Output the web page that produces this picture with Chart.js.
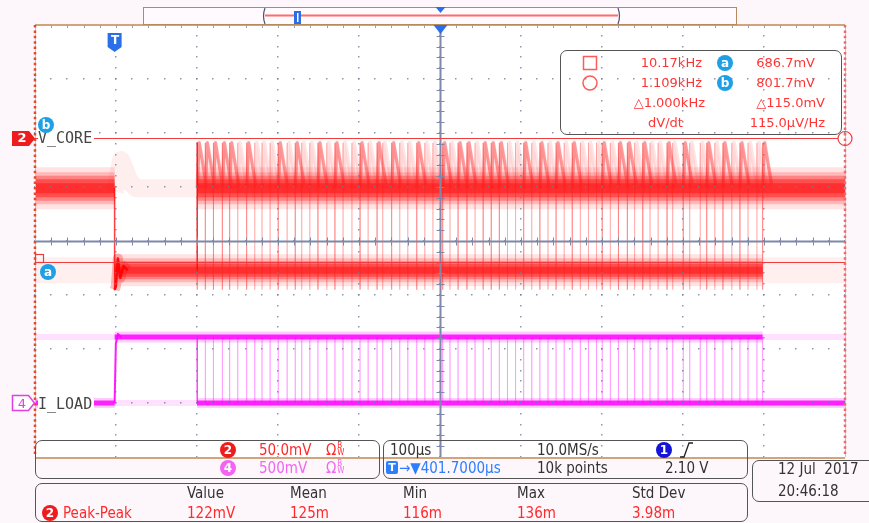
<!DOCTYPE html>
<html>
<head>
<meta charset="utf-8">
<script src="https://cdn.jsdelivr.net/npm/chart.js@4.4.1/dist/chart.umd.min.js"></script>
<style>
  html, body { margin: 0; padding: 0; background: #fdf6fb; }
  #scope { position: relative; width: 869px; height: 523px; overflow: hidden; font-family: "Liberation Sans", Arial, sans-serif; }
  #scope canvas { position: absolute; left: 0; top: 0; }
  .t { position: absolute; white-space: nowrap; line-height: 16px; height: 16px; }
  .box { position: absolute; border: 1.5px solid #555; border-radius: 7px; box-sizing: border-box; }
  .meas { font-family: "DejaVu Sans", sans-serif; font-size: 13px; color: #ff3434; }
  .info { font-family: "Liberation Sans Narrow", "DejaVu Sans Condensed", "Liberation Sans", sans-serif; font-size: 15px; color: #333; }
  .red { color: #ff2a2a; }
  .mag { color: #f264f2; }
  .blue { color: #2b7fff; }
  .badge { position: absolute; width: 16px; height: 16px; border-radius: 50%; color: #fff; text-align: center;
           font: bold 12px/16px "DejaVu Sans", sans-serif; }
  .tag { position: absolute; font: 15px/16px "DejaVu Sans Mono", monospace; color: #444; background: #fff; padding-right: 2px; }
  .bw { display: inline-block; font-size: 8px; line-height: 7px; vertical-align: top; margin-left: 1px; }
</style>
</head>
<body>
<div id="scope">
  <canvas id="scope-canvas" width="869" height="523"></canvas>

  <!-- trace labels and markers -->
  <div class="tag" style="left:38px;top:130px">V_CORE</div>
  <div class="tag" style="left:38px;top:396px">I_LOAD</div>
  <div class="t" style="left:14px;top:130px;width:16px;text-align:center;font:bold 13px/16px 'DejaVu Sans';color:#fff">2</div>
  <div class="t" style="left:14px;top:396px;width:16px;text-align:center;font:13px/16px 'DejaVu Sans';color:#e040e0">4</div>
  <div class="badge" style="left:38px;top:117px;background:#1ea0e6">b</div>
  <div class="badge" style="left:40px;top:264px;background:#1ea0e6">a</div>
  <div class="t" style="left:109px;top:33px;width:12px;text-align:center;font:bold 12px/14px 'DejaVu Sans';color:#fff">T</div>

  <!-- cursor readout -->
  <div class="box" style="left:560px;top:50px;width:282px;height:85px"></div>
  <div class="t meas" style="right:167px;top:55px">10.17kHz</div>
  <div class="badge" style="left:717px;top:55px;background:#1ea0e6">a</div>
  <div class="t meas" style="right:54px;top:55px">686.7mV</div>
  <div class="t meas" style="right:167px;top:75px">1.109kHz</div>
  <div class="badge" style="left:717px;top:75px;background:#1ea0e6">b</div>
  <div class="t meas" style="right:54px;top:75px">801.7mV</div>
  <div class="t meas" style="right:164px;top:95px">△1.000kHz</div>
  <div class="t meas" style="right:44px;top:95px">△115.0mV</div>
  <div class="t meas" style="left:648px;top:115px">dV/dt</div>
  <div class="t meas" style="right:44px;top:115px">115.0µV/Hz</div>

  <!-- channel settings -->
  <div class="box" style="left:35px;top:440px;width:345px;height:39px"></div>
  <div class="badge" style="left:220px;top:442px;background:#ee1c1c">2</div>
  <div class="t info red" style="left:259px;top:442px">50.0mV</div>
  <div class="t info red" style="left:326px;top:442px">Ω<span class="bw">B<br>W</span></div>
  <div class="badge" style="left:220px;top:460px;background:#f264f2">4</div>
  <div class="t info mag" style="left:259px;top:460px">500mV</div>
  <div class="t info mag" style="left:326px;top:460px">Ω<span class="bw">B<br>W</span></div>

  <!-- timebase / trigger -->
  <div class="box" style="left:383px;top:440px;width:365px;height:39px"></div>
  <div class="t info" style="left:390px;top:442px">100µs</div>
  <div class="t info" style="left:537px;top:442px">10.0MS/s</div>
  <div class="badge" style="left:656px;top:442px;background:#1414d8">1</div>
  <div class="t" style="left:386px;top:461px;width:12px;height:13px;background:#2b7fff;border-radius:2px;color:#fff;text-align:center;font:bold 11px/13px 'DejaVu Sans'">T</div>
  <div class="t info blue" style="left:399px;top:460px">→▼401.7000µs</div>
  <div class="t info" style="left:537px;top:460px">10k points</div>
  <div class="t info" style="left:665px;top:460px">2.10 V</div>

  <!-- date -->
  <div class="box" style="left:752px;top:460px;width:130px;height:42px"></div>
  <div class="t info" style="left:778px;top:461px">12 Jul&nbsp;&nbsp;2017</div>
  <div class="t info" style="left:778px;top:483px">20:46:18</div>

  <!-- measurement statistics -->
  <div class="box" style="left:35px;top:483px;width:713px;height:39px"></div>
  <div class="t info" style="left:187px;top:485px">Value</div>
  <div class="t info" style="left:290px;top:485px">Mean</div>
  <div class="t info" style="left:403px;top:485px">Min</div>
  <div class="t info" style="left:517px;top:485px">Max</div>
  <div class="t info" style="left:632px;top:485px">Std Dev</div>
  <div class="badge" style="left:42px;top:505px;background:#ee1c1c">2</div>
  <div class="t info red" style="left:63px;top:505px">Peak-Peak</div>
  <div class="t info red" style="left:187px;top:505px">122mV</div>
  <div class="t info red" style="left:290px;top:505px">125m</div>
  <div class="t info red" style="left:403px;top:505px">116m</div>
  <div class="t info red" style="left:517px;top:505px">136m</div>
  <div class="t info red" style="left:632px;top:505px">3.98m</div>
</div>

<script>
// time axis in µs from the trigger, 100 µs/div
const gridTimes = [-98.3, 1.7, 101.7, 201.7, 301.7, 401.7, 501.7, 601.7, 701.7, 801.7, 901.7];
// CH2 levels in mV, 50 mV/div
const gridLevels = [506.1, 556.1, 606.1, 656.1, 706.1, 756.1, 806.1, 856.1, 906.1];
// CH4 span in V, 500 mV/div
const ch4Span = [-0.5, 3.5];

const cursorA = 686.7;
const cursorB = 801.7;

// V_CORE levels (mV)
const vcoreHigh = 755;
const vcoreLow = 679;
const vcorePeak = 797;
const vcoreDip = 661;

// I_LOAD levels (V on CH4)
const iloadHigh = 0.61;
const iloadLow = 0;

// load switching edges (µs)
const stepTimes = [102, 112, 122, 133, 142, 152, 163, 173, 182, 192, 202, 213, 223, 231, 241, 251, 262, 272,
  282, 293, 303, 313, 324, 331, 342, 352, 362, 373, 383, 393, 405, 414, 424, 435, 445, 455, 465, 475, 485, 495,
  505, 515, 525, 535, 545, 555, 565, 575, 585, 595, 602, 612, 622, 633, 642, 652, 661, 671, 682, 689, 702, 710,
  723, 731, 741, 751, 762, 772, 782, 793, 800];
// edges that show up darker in persistence
const strongSteps = [102, 112, 122, 133, 142, 163, 202, 223, 251, 272, 303, 324, 342, 373, 405, 424, 435, 455,
  465, 475, 505, 525, 545, 565, 602, 622, 633, 652, 682, 702, 731, 751, 772, 800];

// persistence spans [from, to] in µs
const vcoreHighDense = [[-98.3, 0], [101.7, 901.7]];
const vcoreLowDense = [[0, 800]];
const vcoreLowFaint = [[-98.3, 0], [800, 901.7]];
const iloadHighDense = [[0, 800]];
const iloadHighFaint = [[-98.3, 0], [800, 901.7]];
const iloadLowDense = [[-98.3, 0], [101.7, 901.7]];
const iloadLowFaint = [[0, 101.7]];

// V_CORE undershoot when the load steps on at 0 µs
const dipTimes = [0, 1.5, 4, 7, 11, 16];
const dipValues = [661, 664, 690, 672, 683, 679];
// faint overshoot trace of the release case
const releaseTimes = [0, 3, 8, 12, 18, 26, 101.7];
const releaseValues = [752, 760, 781, 774, 762, 755, 755];
// I_LOAD rising edge
const riseTimes = [0, 1.5, 4, 8];
const riseValues = [0, 0.55, 0.64, 0.61];

function spanPoints(spans, level) {
  const pts = [];
  spans.forEach(([a, b]) => pts.push({ x: a, y: level }, { x: b, y: level }, { x: b, y: null }));
  return pts;
}
function pathPoints(ts, vs) {
  return ts.map((t, i) => ({ x: t, y: vs[i] }));
}
function edgePoints(times, top, bottom) {
  const pts = [];
  times.forEach(t => pts.push({ x: t, y: top }, { x: t, y: bottom }, { x: t, y: null }));
  return pts;
}
function spikePoints(times) {
  const pts = [];
  times.forEach(t => pts.push({ x: t, y: vcoreHigh }, { x: t + 2.5, y: vcorePeak }, { x: t + 11, y: vcoreHigh + 4 }, { x: t + 11, y: null }));
  return pts;
}
function trace(data, color, width, axis) {
  return { data, borderColor: color, borderWidth: width, yAxisID: axis || 'y', pointRadius: 0,
           fill: false, clip: 0, borderCapStyle: 'butt', borderJoinStyle: 'round' };
}

// faint sawtooth haze, filled down to the band
const spikeHaze = trace(spikePoints(stepTimes), 'rgba(255,90,90,0.16)', 4);
spikeHaze.fill = { value: vcoreHigh };
spikeHaze.backgroundColor = 'rgba(255,110,110,0.10)';

// dense persistence band: stacked strokes, widest and palest first
function denseBand(spans, level, widths, axis, rgb) {
  const alphas = [0.12, 0.2, 0.32, 0.45, 0.5];
  return widths.map((w, i) => trace(spanPoints(spans, level), 'rgba(' + rgb + ',' + alphas[i] + ')', w, axis));
}

// listed bottom layer first
const layers = [
  // CH2 faint persistence
  trace(spanPoints(vcoreLowFaint, vcoreLow), 'rgba(255,120,120,0.12)', 26),
  trace(pathPoints(releaseTimes, releaseValues), 'rgba(255,120,120,0.13)', 18),
  trace(edgePoints(stepTimes, vcorePeak, vcoreDip), 'rgba(255,80,80,0.2)', 1),
  spikeHaze,
  // CH2 dense bands
  ...denseBand(vcoreHighDense, vcoreHigh, [42, 32, 25, 18, 10], 'y', '255,15,15'),
  ...denseBand(vcoreLowDense, vcoreLow, [32, 24, 18, 13, 7], 'y', '255,15,15'),
  trace(spikePoints(strongSteps), 'rgba(255,30,30,0.38)', 3),
  trace(edgePoints(strongSteps, vcorePeak, vcoreDip), 'rgba(255,60,60,0.12)', 1),
  trace(pathPoints(dipTimes, dipValues), 'rgba(255,20,20,0.3)', 10),
  trace(pathPoints(dipTimes, dipValues), 'rgba(255,0,0,0.9)', 2.5),
  trace(edgePoints([0], vcoreHigh, vcoreDip), 'rgba(255,0,0,0.75)', 1.5),
  trace(edgePoints([stepTimes[0]], vcorePeak, vcoreLow), 'rgba(255,0,0,0.7)', 1.5),
  // CH4
  trace(spanPoints(iloadHighFaint, iloadHigh), 'rgba(255,60,255,0.16)', 6, 'y4'),
  trace(spanPoints(iloadLowFaint, iloadLow), 'rgba(255,60,255,0.16)', 6, 'y4'),
  trace(edgePoints(stepTimes, iloadHigh, iloadLow), 'rgba(255,60,255,0.22)', 1, 'y4'),
  trace(spanPoints(iloadHighDense, iloadHigh), 'rgba(255,0,255,0.2)', 11, 'y4'),
  trace(spanPoints(iloadLowDense, iloadLow), 'rgba(255,0,255,0.2)', 10, 'y4'),
  trace(spanPoints(iloadHighDense, iloadHigh), 'rgba(255,0,255,0.85)', 5, 'y4'),
  trace(spanPoints(iloadLowDense, iloadLow), 'rgba(255,0,255,0.85)', 5, 'y4'),
  trace(pathPoints(riseTimes, riseValues), 'rgba(255,0,255,0.9)', 2, 'y4'),
  trace(edgePoints([stepTimes[0]], iloadHigh, iloadLow), 'rgba(255,0,255,0.6)', 1.5, 'y4')
];
layers.forEach((ds, i) => { ds.order = layers.length - i; });

function pentagon(ctx, x, y, w, h) {
  ctx.beginPath();
  ctx.moveTo(x, y);
  ctx.lineTo(x + w - 6, y);
  ctx.lineTo(x + w, y + h / 2);
  ctx.lineTo(x + w - 6, y + h);
  ctx.lineTo(x, y + h);
  ctx.closePath();
}

const scopeScreen = {
  id: 'scopeScreen',
  beforeDatasetsDraw(chart) {
    const { ctx, chartArea: a } = chart;
    ctx.save();
    ctx.fillStyle = '#ffffff';
    ctx.fillRect(a.left, a.top, a.right - a.left, a.bottom - a.top);
    ctx.restore();
  },
  afterDatasetsDraw(chart) {
    const { ctx, chartArea: a, scales } = chart;
    const xs = scales.x, ys = scales.y;
    const divX = (a.right - a.left) / 10, divY = (a.bottom - a.top) / 8;
    ctx.save();

    // dotted graticule
    ctx.fillStyle = 'rgba(115,124,155,0.8)';
    gridTimes.slice(1, -1).forEach(t => {
      const px = Math.round(xs.getPixelForValue(t));
      for (let k = 0; k <= 40; k++) ctx.fillRect(px - 1, Math.round(a.top + k * divY / 5) - 1, 1.5, 1.5);
    });
    gridLevels.slice(1, -1).forEach(v => {
      const py = Math.round(ys.getPixelForValue(v));
      for (let k = 0; k <= 50; k++) ctx.fillRect(Math.round(a.left + k * divX / 5) - 1, py - 1, 1.5, 1.5);
    });

    // centre axes with minor ticks
    const cx = Math.round(xs.getPixelForValue(gridTimes[5])) + 0.5;
    const cy = Math.round(ys.getPixelForValue(gridLevels[4])) + 0.5;
    ctx.strokeStyle = '#7f88a8';
    ctx.lineWidth = 2;
    ctx.beginPath();
    ctx.moveTo(cx, a.top); ctx.lineTo(cx, a.bottom);
    ctx.moveTo(a.left, cy); ctx.lineTo(a.right, cy);
    ctx.stroke();
    ctx.lineWidth = 1;
    ctx.beginPath();
    for (let k = 0; k <= 40; k++) { const py = Math.round(a.top + k * divY / 5) + 0.5; ctx.moveTo(cx - 4, py); ctx.lineTo(cx + 4, py); }
    for (let k = 0; k <= 50; k++) { const px = Math.round(a.left + k * divX / 5) + 0.5; ctx.moveTo(px, cy - 4); ctx.lineTo(px, cy + 4); }
    ctx.stroke();

    // screen border: tan top/bottom, dashed red sides
    ctx.strokeStyle = '#d2a47c';
    ctx.lineWidth = 2;
    ctx.beginPath();
    ctx.moveTo(a.left, a.top); ctx.lineTo(a.right, a.top);
    ctx.moveTo(a.left, a.bottom + 1); ctx.lineTo(a.right, a.bottom + 1);
    ctx.stroke();
    ctx.strokeStyle = '#9aa0b0';
    ctx.lineWidth = 1;
    ctx.beginPath();
    for (let k = 1; k < 50; k++) { const px = Math.round(a.left + k * divX / 5) + 0.5; ctx.moveTo(px, a.top); ctx.lineTo(px, a.top + 3); }
    ctx.stroke();
    [[a.left, '#e24a2a'], [a.right, '#ee6a6a']].forEach(([ex, col]) => {
      ctx.strokeStyle = '#e8b894';
      ctx.lineWidth = 1;
      ctx.setLineDash([]);
      ctx.beginPath(); ctx.moveTo(ex + 0.5, a.top); ctx.lineTo(ex + 0.5, a.bottom); ctx.stroke();
      ctx.strokeStyle = col;
      ctx.lineWidth = 2.5;
      ctx.setLineDash([2.5, 2.9]);
      ctx.beginPath(); ctx.moveTo(ex, a.top); ctx.lineTo(ex, a.bottom); ctx.stroke();
    });
    ctx.setLineDash([]);

    // cursors a and b
    const ya = Math.round(ys.getPixelForValue(cursorA)) + 0.5;
    const yb = Math.round(ys.getPixelForValue(cursorB)) + 0.5;
    ctx.strokeStyle = '#f03c3c';
    ctx.lineWidth = 1.2;
    ctx.beginPath();
    ctx.moveTo(a.left + 8, ya); ctx.lineTo(a.right, ya);
    ctx.moveTo(a.left, yb); ctx.lineTo(a.right - 7, yb);
    ctx.stroke();
    ctx.strokeRect(a.left + 0.5, ya - 8, 8, 8);
    ctx.beginPath(); ctx.arc(a.right, yb, 7, 0, Math.PI * 2); ctx.stroke();
    ctx.restore();
  },
  afterDraw(chart) {
    const { ctx, chartArea: a, scales } = chart;
    const tx = scales.x.getPixelForValue(0);
    const cx = Math.round(scales.x.getPixelForValue(gridTimes[5])) + 0.5;
    ctx.save();

    // record overview strip
    ctx.fillStyle = '#fffafd';
    ctx.fillRect(143, 7, 593, 17);
    ctx.strokeStyle = '#b9895c';
    ctx.lineWidth = 1;
    ctx.strokeRect(143.5, 7.5, 593, 17);
    ctx.strokeStyle = '#ff6a6a';
    ctx.lineWidth = 2;
    ctx.beginPath(); ctx.moveTo(265, 15.5); ctx.lineTo(618, 15.5); ctx.stroke();
    ctx.strokeStyle = '#4a5470';
    ctx.lineWidth = 1.2;
    ctx.beginPath();
    ctx.moveTo(265, 8); ctx.quadraticCurveTo(262, 16, 265, 24);
    ctx.moveTo(618, 8); ctx.quadraticCurveTo(621, 16, 618, 24);
    ctx.stroke();
    ctx.fillStyle = '#2b6fe8';
    ctx.fillRect(294, 11, 7, 13);
    ctx.fillStyle = '#fff';
    ctx.fillRect(297, 13, 1.5, 9);
    ctx.fillStyle = '#2b6fe8';
    ctx.beginPath(); ctx.moveTo(cx - 5, 7); ctx.lineTo(cx + 5, 7); ctx.lineTo(cx, 13); ctx.closePath(); ctx.fill();

    // trigger position and centre markers
    ctx.beginPath();
    ctx.moveTo(tx - 7, 33); ctx.lineTo(tx + 7, 33); ctx.lineTo(tx + 7, 47); ctx.lineTo(tx, 52); ctx.lineTo(tx - 7, 47);
    ctx.closePath(); ctx.fill();
    ctx.beginPath(); ctx.moveTo(cx - 7, a.top); ctx.lineTo(cx + 7, a.top); ctx.lineTo(cx, a.top + 9); ctx.closePath(); ctx.fill();

    // channel offset markers
    pentagon(ctx, 12, 131, 23, 15);
    ctx.fillStyle = '#ee1c1c';
    ctx.fill();
    const y4 = Math.round(scales.y4.getPixelForValue(0));
    pentagon(ctx, 12.5, y4 - 7.5, 22, 15);
    ctx.fillStyle = '#fff';
    ctx.fill();
    ctx.strokeStyle = '#e040e0';
    ctx.lineWidth = 1.5;
    ctx.stroke();

    // readout cursor symbols
    ctx.strokeStyle = '#ff5a5a';
    ctx.lineWidth = 1.5;
    ctx.strokeRect(583.5, 56.5, 13, 13);
    ctx.beginPath(); ctx.arc(590, 83, 7, 0, Math.PI * 2); ctx.stroke();

    // trigger slope symbol
    ctx.strokeStyle = '#222';
    ctx.lineWidth = 1.3;
    ctx.beginPath(); ctx.moveTo(680, 457); ctx.lineTo(684, 457); ctx.lineTo(689, 443); ctx.lineTo(693, 443); ctx.stroke();
    ctx.restore();
  }
};

new Chart(document.getElementById('scope-canvas'), {
  type: 'line',
  data: { datasets: layers },
  options: {
    responsive: false,
    animation: false,
    events: [],
    spanGaps: false,
    layout: { padding: { left: 35, top: 25, right: 24, bottom: 66 } },
    plugins: { legend: { display: false }, tooltip: { enabled: false } },
    scales: {
      x: { type: 'linear', display: false, min: gridTimes[0], max: gridTimes[gridTimes.length - 1] },
      y: { type: 'linear', display: false, min: gridLevels[0], max: gridLevels[gridLevels.length - 1] },
      y4: { type: 'linear', display: false, min: ch4Span[0], max: ch4Span[1] }
    }
  },
  plugins: [scopeScreen]
});
</script>
</body>
</html>
